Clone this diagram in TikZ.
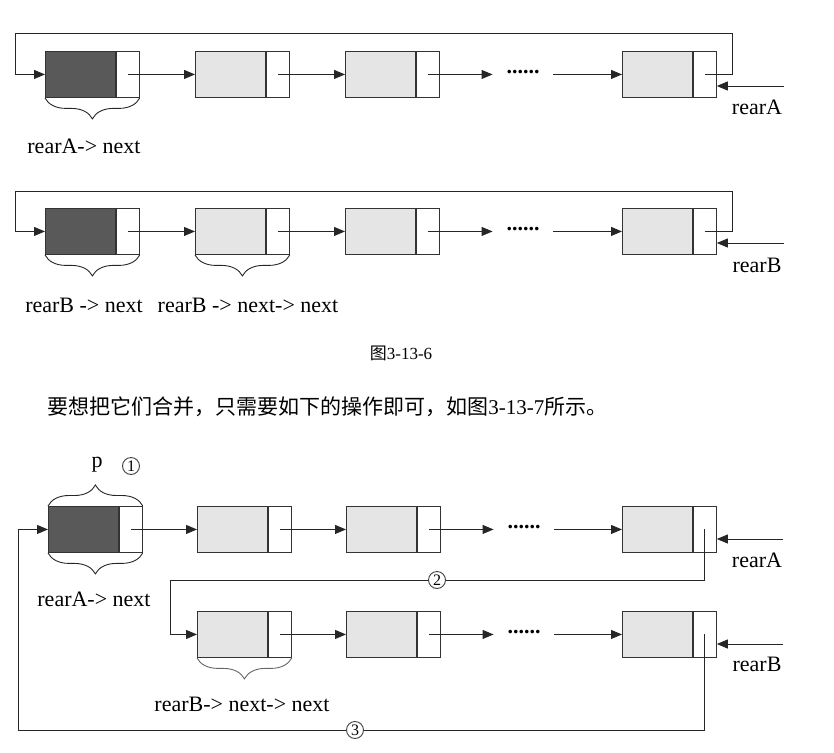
\documentclass[tikz,border=0pt]{standalone}
\usepackage{fontspec}
\setmainfont{Liberation Serif}
\newfontfamily\cjk{Noto Sans CJK SC}
\usetikzlibrary{arrows.meta,decorations.pathreplacing}
\begin{document}
\begin{tikzpicture}[x=1pt,y=-1pt,
  line width=0.9pt,
  cell/.style={draw=black!80, minimum height=46pt, inner sep=0, anchor=north west},
  dark/.style={cell, fill=black!65, minimum width=70pt},
  light/.style={cell, fill=black!10, minimum width=70pt},
  ptr/.style={cell, fill=white, minimum width=23pt},
  arr/.style={draw=black!85, -{Triangle[length=11pt,width=9pt]}},
  lbl/.style={font=\fontsize{22}{26}\selectfont, inner sep=0},
  dotsn/.style={font=\fontsize{22}{26}\selectfont\bfseries, minimum width=60pt, inner sep=0},
  brc/.style={decorate, decoration={brace, amplitude=21pt, aspect=0.5}, draw=black!85},
  circnum/.style={circle, draw=black!75, fill=white, inner sep=0, minimum size=17pt, font=\fontsize{16}{16}\selectfont}
]
\useasboundingbox (0,0) rectangle (834,752);

% ---------- Row A (figure 3-13-6) ----------
\node[dark]  (a1d) at (45,51) {};
\node[ptr]   (a1p) at (a1d.north east) {};
\node[light] (a2d) at (195,51) {};
\node[ptr]   (a2p) at (a2d.north east) {};
\node[light] (a3d) at (345,51) {};
\node[ptr]   (a3p) at (a3d.north east) {};
\node[light] (a4d) at (622,51) {};
\node[ptr]   (a4p) at (a4d.north east) {};
\node[dotsn] (adots) at (523,72) {......};
\draw[arr] (a1p.center) -- (a2d.west);
\draw[arr] (a2p.center) -- (a3d.west);
\draw[arr] (a3p.center) -- (a3p.center -| adots.west);
\draw[arr] (a4d.west -| adots.east) -- (a4d.west);
\coordinate (atr) at (732,33);
\coordinate (atl) at (15,33);
\draw[arr] (a4p.center) -| (atr) -- (atl) |- (a1d.west);
\coordinate (rain) at (784,86);
\draw[arr] (rain) -- (rain -| a4p.east);
\node[lbl] (ralbl) at (757,107) {rearA};
\draw[brc] (a1p.south east) -- (a1d.south west);
\node[lbl] (anext) at (84,146) {rearA-> next};

% ---------- Row B (figure 3-13-6) ----------
\node[dark]  (b1d) at (45,208) {};
\node[ptr]   (b1p) at (b1d.north east) {};
\node[light] (b2d) at (195,208) {};
\node[ptr]   (b2p) at (b2d.north east) {};
\node[light] (b3d) at (345,208) {};
\node[ptr]   (b3p) at (b3d.north east) {};
\node[light] (b4d) at (622,208) {};
\node[ptr]   (b4p) at (b4d.north east) {};
\node[dotsn] (bdots) at (523,229) {......};
\draw[arr] (b1p.center) -- (b2d.west);
\draw[arr] (b2p.center) -- (b3d.west);
\draw[arr] (b3p.center) -- (b3p.center -| bdots.west);
\draw[arr] (b4d.west -| bdots.east) -- (b4d.west);
\coordinate (btr) at (732,191);
\coordinate (btl) at (15,191);
\draw[arr] (b4p.center) -| (btr) -- (btl) |- (b1d.west);
\coordinate (rbin) at (784,243);
\draw[arr] (rbin) -- (rbin -| b4p.east);
\node[lbl] (rblbl) at (757,265) {rearB};
\draw[brc] (b1p.south east) -- (b1d.south west);
\draw[brc] (b2p.south east) -- (b2d.south west);
\node[lbl] (bnext) at (84,305) {rearB -> next};
\node[lbl] (bnextnext) at (248,305) {rearB -> next-> next};

% ---------- caption and sentence ----------
\node[font=\fontsize{17}{20}\selectfont, inner sep=0] (cap) at (401,353) {{\cjk 图}3-13-6};
\node[anchor=west, font=\fontsize{21}{24}\selectfont, inner sep=0] (sent) at (47,407)
  {{\cjk 要想把它们合并，只需要如下的操作即可，如图}3-13-7{\cjk 所示。}};

% ---------- merged figure 3-13-7 ----------
\node[dark]  (d1d) at (48,506) {};
\node[ptr]   (d1p) at (d1d.north east) {};
\node[light] (d2d) at (197,506) {};
\node[ptr]   (d2p) at (d2d.north east) {};
\node[light] (d3d) at (346,506) {};
\node[ptr]   (d3p) at (d3d.north east) {};
\node[light] (d4d) at (622,506) {};
\node[ptr]   (d4p) at (d4d.north east) {};
\node[dotsn] (ddots) at (524,527) {......};
\draw[arr] (d1p.center) -- (d2d.west);
\draw[arr] (d2p.center) -- (d3d.west);
\draw[arr] (d3p.center) -- (d3p.center -| ddots.west);
\draw[arr] (d4d.west -| ddots.east) -- (d4d.west);
\coordinate (rain2) at (783,539);
\draw[arr] (rain2) -- (rain2 -| d4p.east);
\node[lbl] (ralbl2) at (757,560) {rearA};
\draw[brc] (d1d.north west) -- (d1p.north east);
\node[lbl] (plbl) at (97,465) {p};
\node[circnum] (n1) at (131,466) {1};
\draw[brc] (d1p.south east) -- (d1d.south west);
\node[lbl] (dnext) at (94,599) {rearA-> next};

\node[light] (e2d) at (197,611) {};
\node[ptr]   (e2p) at (e2d.north east) {};
\node[light] (e3d) at (346,611) {};
\node[ptr]   (e3p) at (e3d.north east) {};
\node[light] (e4d) at (622,611) {};
\node[ptr]   (e4p) at (e4d.north east) {};
\node[dotsn] (edots) at (524,632) {......};
\draw[arr] (e2p.center) -- (e3d.west);
\draw[arr] (e3p.center) -- (e3p.center -| edots.west);
\draw[arr] (e4d.west -| edots.east) -- (e4d.west);
\coordinate (rbin2) at (783,644);
\draw[arr] (rbin2) -- (rbin2 -| e4p.east);
\node[lbl] (rblbl2) at (757,664) {rearB};
\draw[brc, draw=black!60] (e2p.south east) -- (e2d.south west);
\node[lbl] (enext) at (242,704) {rearB-> next-> next};

% step 2: rearA->next = rearB->next->next
\coordinate (t2) at (170,580);
\draw[arr] (d4p.center) |- (t2) |- (e2d.west);
\node[circnum] (n2) at (437,580) {2};
% step 3: rearB->next = p
\coordinate (t3) at (18,730);
\draw[arr] (e4p.center) |- (t3) |- (d1d.west);
\node[circnum] (n3) at (355,730) {3};
\end{tikzpicture}
\end{document}
